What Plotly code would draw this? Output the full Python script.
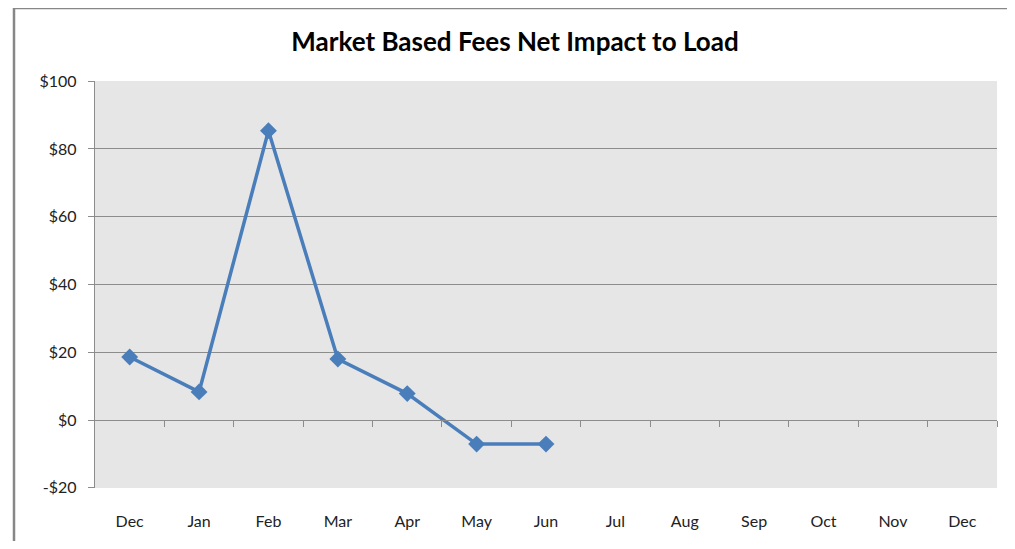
import plotly.graph_objects as go

months = ["Dec", "Jan", "Feb", "Mar", "Apr", "May", "Jun", "Jul", "Aug", "Sep", "Oct", "Nov", "Dec"]
values = [18.6, 8.3, 85.4, 18.0, 7.8, -7.1, -7.1]
y_ticks = [-20, 0, 20, 40, 60, 80, 100]
y_labels = ["-$20", "$0", "$20", "$40", "$60", "$80", "$100"]

OFF = 8  # page body margin offset
W, H = 1015 - 2 * OFF, 549 - 2 * OFF
ML, MT = 95 - OFF, 81 - OFF
MR = W - (997 - OFF)
MB = H - (488 - OFF)
plot_w = W - ML - MR
plot_h = H - MT - MB

x_idx = list(range(len(months)))
y_min, y_max = -20, 100
pad = 0.06
zero_pos = (0 - (y_min - pad)) / (y_max - y_min + 2 * pad)

fig = go.Figure()
fig.add_trace(go.Scatter(
    x=x_idx[:len(values)], y=values, mode="lines+markers",
    line=dict(color="#4A7EBB", width=3.5),
    marker=dict(symbol="diamond", size=13, color="#4A7EBB"),
    showlegend=False, hoverinfo="x+y",
))
fig.add_trace(go.Scatter(x=[x_idx[0]], y=[0], xaxis="x2", mode="markers",
                         marker=dict(opacity=0), showlegend=False, hoverinfo="skip"))

font_family = "Lato, 'Open Sans', sans-serif"

bx0 = (14 - OFF - ML) / plot_w
bx1 = (W - ML) / plot_w
by0 = -MB / plot_h
by1 = 1 + (MT - (8 - OFF)) / plot_h
border = dict(color="#878787", width=2.5)

fig.update_layout(
    width=W, height=H,
    margin=dict(l=ML, r=MR, t=MT, b=MB),
    paper_bgcolor="white",
    plot_bgcolor="#E6E6E6",
    title=dict(text="<b>Market Based Fees Net Impact to Load</b>",
               x=(515 - OFF - ML) / plot_w, xref="paper", xanchor="center",
               y=1 - (42 - OFF) / H, yanchor="middle",
               font=dict(family=font_family, size=26, color="black")),
    xaxis=dict(
        range=[-0.5, len(months) - 0.5],
        tickvals=x_idx, ticktext=months,
        showgrid=False, zeroline=False, showline=False,
        ticks="", ticklabelstandoff=22,
        tickfont=dict(family=font_family, size=16, color="#222"),
    ),
    xaxis2=dict(
        overlaying="x", matches="x", anchor="free", position=zero_pos,
        range=[-0.5, len(months) - 0.5],
        tickvals=[i + 0.5 for i in x_idx], showticklabels=False,
        showgrid=False, zeroline=False,
        showline=True, linecolor="#8C8C8C", linewidth=1.3,
        ticks="outside", ticklen=6, tickcolor="#8C8C8C", tickwidth=1.3,
        side="bottom",
    ),
    yaxis=dict(
        range=[y_min - pad, y_max + pad], tickvals=y_ticks, ticktext=y_labels,
        showgrid=True, gridcolor="#8C8C8C", gridwidth=1.3,
        zeroline=False,
        showline=True, linecolor="#8C8C8C", linewidth=1.3,
        ticks="outside", ticklen=6, tickcolor="#8C8C8C", tickwidth=1.3,
        ticklabelstandoff=8,
        tickfont=dict(family=font_family, size=16, color="#222"),
    ),
    shapes=[
        dict(type="line", xref="paper", yref="paper",
             x0=bx0, x1=bx1, y0=by1, y1=by1, line=border, layer="below"),
        dict(type="line", xref="paper", yref="paper",
             x0=bx0, x1=bx0, y0=by0, y1=by1, line=border, layer="below"),
    ],
)

fig.write_html("out.html")
